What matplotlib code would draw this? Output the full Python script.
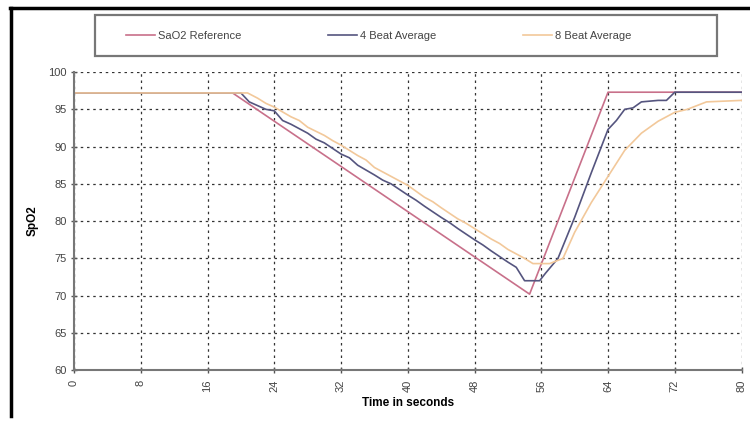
import matplotlib
matplotlib.use("Agg")
import matplotlib.pyplot as plt
from matplotlib.lines import Line2D
from matplotlib.patches import Rectangle

plt.rcParams['font.family'] = ['Liberation Sans', 'DejaVu Sans']

# SaO2 reference
t_ref = [0, 19, 54.6, 64, 80]
v_ref = [97.2, 97.2, 70.2, 97.3, 97.3]

# 4 beat average
t_4 = [0, 20, 21, 22, 23, 24, 25, 26, 28, 29, 30, 32, 33, 34, 36, 37, 38, 40, 41, 42,
       44, 45, 46, 48, 49, 50, 52, 53, 54, 55.8, 56.5, 58, 60, 62, 64, 65, 66, 67, 68,
       70, 71, 72, 80]
v_4 = [97.2, 97.2, 96, 95.5, 95, 94.8, 93.5, 93, 91.8, 91, 90.5, 89, 88.5, 87.5, 86.2,
       85.5, 85, 83.5, 82.8, 82, 80.5, 79.8, 79, 77.5, 76.8, 76, 74.5, 73.8, 72, 72, 73,
       75, 80.5, 86.5, 92.3, 93.5, 95, 95.2, 96, 96.2, 96.2, 97.3, 97.3]

# 8 beat average
t_8 = [0, 20.8, 22, 23, 24, 26, 27, 28, 30, 31, 32, 34, 35, 36, 38, 39, 40, 42, 43, 44,
       46, 47, 48, 50, 51, 52, 54, 55, 57, 58.6, 60, 62, 64, 66, 68, 70, 72, 73.5, 75.8, 80]
v_8 = [97.2, 97.2, 96.5, 95.8, 95.3, 94, 93.5, 92.6, 91.5, 90.8, 90.2, 88.8, 88.2, 87.2,
       86, 85.4, 84.8, 83.2, 82.6, 81.8, 80.3, 79.7, 79, 77.6, 77, 76.2, 75, 74.3, 74.3,
       75, 78.5, 82.5, 86, 89.5, 91.8, 93.4, 94.6, 95, 96, 96.2]

x_ticks = [0, 8, 16, 24, 32, 40, 48, 56, 64, 72, 80]
y_ticks = [60, 65, 70, 75, 80, 85, 90, 95, 100]

fig = plt.figure(figsize=(7.5, 4.24), dpi=100)
ax = fig.add_axes([0.0987, 0.127, 0.890, 0.703])

ax.plot(t_ref, v_ref, color='#c8708a', lw=1.2, label='SaO2 Reference')
ax.plot(t_4, v_4, color='#55557f', lw=1.2, label='4 Beat Average')
ax.plot(t_8, v_8, color='#f2c89a', lw=1.2, label='8 Beat Average')

ax.set_xlim(0, 80)
ax.set_ylim(60, 100)
ax.set_xticks(x_ticks)
ax.set_yticks(y_ticks)
ax.set_xticklabels([str(v) for v in x_ticks], rotation=90)
ax.tick_params(direction='inout', length=4, width=1, color='#555555',
               labelsize=8, labelcolor='#444444')
ax.tick_params(axis='x', pad=5)
ax.grid(True, color='#333333', linestyle=(0, (2, 3)), linewidth=0.9)

for s in ['top', 'right']:
    ax.spines[s].set_visible(False)
for s in ['left', 'bottom']:
    ax.spines[s].set_color('#777777')
    ax.spines[s].set_linewidth(1.5)

ax.set_xlabel('Time in seconds', fontsize=8.5, fontweight='bold', labelpad=3)
ax.set_ylabel('SpO2', fontsize=8.5, fontweight='bold', labelpad=7)

# legend box
fig.add_artist(Rectangle((0.127, 0.868), 0.829, 0.097, transform=fig.transFigure,
                         facecolor='white', edgecolor='#777777', lw=1.6))
leg = fig.legend(loc='center', bbox_to_anchor=(0.505, 0.915), ncol=3, fontsize=8,
                 frameon=False, handlelength=2.6, handletextpad=0.3,
                 columnspacing=7.8)
for txt in leg.get_texts():
    txt.set_color('#444444')

# outer frame (top and left edges)
fig.add_artist(Line2D([0.013, 1.0], [0.981, 0.981], color='black', lw=2.5,
                      transform=fig.transFigure))
fig.add_artist(Line2D([0.014, 0.014], [0.02, 0.981], color='black', lw=2.5,
                      transform=fig.transFigure))

fig.savefig('out.png', dpi=100)
